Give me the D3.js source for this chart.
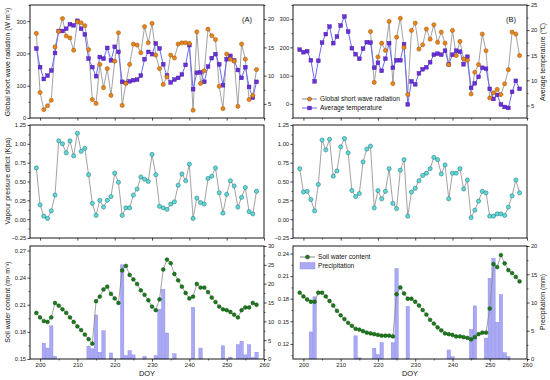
<!DOCTYPE html>
<html><head><meta charset="utf-8">
<script src="https://cdn.jsdelivr.net/npm/d3@7"></script>
<style>body{margin:0;background:#fff}svg{display:block;font-family:"Liberation Sans",Arial,sans-serif}</style>
</head><body><svg width="550" height="380"></svg>
<script>
const doy = [199,200,201,202,203,204,205,206,207,208,209,210,211,212,213,214,215,216,217,218,219,220,221,222,223,224,225,226,227,228,229,230,231,232,233,234,235,236,237,238,239,240,241,242,243,244,245,246,247,248,249,250,251,252,253,254,255,256,257,258];
const radA = [262,79,26,38,55,220,268,308,254,248,210,298,295,286,212,57,45,166,94,153,70,176,264,39,107,166,229,226,202,283,233,293,195,153,104,127,195,186,229,233,233,231,24,267,107,146,275,255,243,98,29,198,182,176,36,229,182,57,70,150];
const tempA = [14.8,11.5,9.4,10.0,10.9,14.0,17.9,17.9,18.3,19.1,18.9,19.7,18.3,17.3,13.0,11.5,9.9,13.3,13.0,14.9,12.7,15.1,14.2,8.9,8.7,9.0,9.2,9.3,10.0,12.9,14.2,13.8,15.7,14.8,12.0,10.0,8.8,9.3,9.6,10.2,11.9,15.4,7.6,10.5,10.6,8.9,11.6,13.1,13.8,12.0,8.3,12.9,13.5,12.7,11.0,9.6,11.5,8.0,6.1,8.9];
const radB = [null,null,null,null,null,null,null,null,null,null,null,null,null,null,null,null,null,null,null,256,76,166,215,189,292,72,236,303,200,33,260,286,194,209,265,229,280,218,254,215,139,260,171,221,159,154,35,112,139,247,188,21,39,51,33,71,121,254,247,171];
const tempB = [16.1,15.6,15.8,14.0,9.8,13.9,17.5,19.2,20.7,17.4,18.7,20.9,22.7,19.7,16.4,15.2,14.3,16.3,17.6,17.5,12.5,13.5,11.9,14.3,17.4,12.5,14.0,14.0,17.2,5.2,9.8,9.2,11.4,12.2,12.6,13.6,15.1,15.3,15.1,15.9,13.2,15.1,15.9,15.7,13.2,14.7,8.5,9.4,10.7,12.5,12.3,8.3,6.3,7.1,5.2,4.7,4.5,7.7,9.9,8.3];
const vpdA = [0.68,0.19,0.04,0.01,0.11,0.32,1.04,1.00,0.88,1.04,0.84,1.14,0.90,0.94,0.59,0.21,0.05,0.25,0.16,0.25,0.30,0.61,0.49,0.05,0.15,0.15,0.32,0.40,0.56,0.53,0.50,0.86,0.59,0.17,0.15,0.13,0.20,0.23,0.45,0.60,0.51,0.73,0.01,0.28,0.22,0.20,0.54,0.57,0.68,0.35,0.08,0.33,0.51,0.44,0.16,0.29,0.42,0.10,0.07,0.37];
const vpdB = [0.67,0.36,0.37,0.26,0.11,0.46,1.05,0.92,1.06,0.57,0.64,0.96,1.07,0.88,0.38,0.30,0.34,0.76,0.93,0.97,0.15,0.38,0.27,0.37,0.67,0.21,0.14,0.65,0.79,0.04,0.36,0.41,0.51,0.58,0.61,0.67,0.82,0.79,0.60,0.72,0.27,0.61,0.61,0.67,0.40,0.52,0.02,0.12,0.24,0.37,0.35,0.04,0.04,0.07,0.07,0.05,0.16,0.31,0.52,0.35];
const swcA = [0.201,0.196,0.192,0.191,0.196,0.212,0.209,0.205,0.201,0.196,0.191,0.186,0.182,0.177,0.172,0.167,0.214,0.219,0.227,0.230,0.222,0.217,0.212,0.248,0.253,0.243,0.238,0.233,0.226,0.221,0.215,0.208,0.204,0.216,0.249,0.260,0.256,0.244,0.237,0.230,0.223,0.217,0.219,0.233,0.229,0.229,0.224,0.218,0.213,0.208,0.205,0.204,0.202,0.199,0.196,0.204,0.207,0.207,0.212,0.210];
const swcB = [0.188,0.183,0.179,0.176,0.176,0.188,0.188,0.183,0.177,0.171,0.164,0.158,0.153,0.148,0.144,0.140,0.139,0.137,0.135,0.134,0.133,0.132,0.131,0.131,0.131,0.130,0.186,0.195,0.187,0.180,0.180,0.176,0.171,0.165,0.159,0.152,0.147,0.142,0.138,0.134,0.133,0.132,0.130,0.130,0.129,0.128,0.126,0.129,0.133,0.135,0.135,0.167,0.226,0.222,0.238,0.227,0.218,0.214,0.209,0.203];
const precipDayA = [201,202,203,204,213,214,215,216,217,219,222,223,224,225,228,231,232,233,234,236,241,243,249,251,253,254,255,256,257,258];
const precipA = [4.2,2.9,8.8,0.7,3.4,2.7,11.7,1.8,7.5,1.6,25.0,0.9,2.2,1.1,0.7,0.9,13.2,18.5,6.9,1.4,13.7,2.9,3.5,0.5,3.8,4.7,1.1,3.8,0.4,1.8];
const precipDayB = [202,203,214,215,219,220,221,224,225,228,239,240,245,246,249,250,251,252,253,254,255];
const precipB = [4.8,11.0,4.1,0.2,1.9,0.8,2.9,2.9,16.0,9.3,1.6,0.4,5.2,9.4,3.7,14.3,17.8,6.5,11.4,1.1,0.4];
const xTicks = [200,210,220,230,240,250,260];

const svg = d3.select("svg");
svg.append("rect").attr("width",550).attr("height",380).attr("fill","#fff");
const cols = {A:[30,264], B:[293,527]};
const rows = {top:[5,118], mid:[125,238], bot:[246,359]};
const FS = 5.8;

function xs(c){ return d3.scaleLinear().domain(c==="A"?[197.3,260]:[197.2,260]).range(cols[c]); }

function yAxis(scale, x, side, major, minor, fmt){
  const g = svg.append("g").attr("transform",`translate(${x},0)`);
  const ax = (side==="left"?d3.axisLeft(scale):d3.axisRight(scale)).tickValues(major).tickSizeInner(2.6).tickSizeOuter(0).tickPadding(1.3).tickFormat(fmt);
  g.call(ax);
  g.select(".domain").remove();
  g.selectAll("text").attr("font-size",FS).attr("fill","#222").attr("font-family","Liberation Sans, Arial, sans-serif");
  g.selectAll("line").attr("stroke","#000").attr("stroke-width",0.7);
  const gm = svg.append("g").attr("transform",`translate(${x},0)`);
  gm.call((side==="left"?d3.axisLeft(scale):d3.axisRight(scale)).tickValues(minor).tickSizeInner(1.5).tickSizeOuter(0).tickFormat(""));
  gm.select(".domain").remove();
  gm.selectAll("line").attr("stroke","#000").attr("stroke-width",0.6);
}
function xAxis(x, y, labels){
  const g = svg.append("g").attr("transform",`translate(0,${y})`);
  g.call(d3.axisBottom(x).tickValues(xTicks).tickSizeInner(2.6).tickSizeOuter(0).tickPadding(1.6).tickFormat(labels?d3.format("d"):""));
  g.select(".domain").remove();
  g.selectAll("text").attr("font-size",FS+0.2).attr("fill","#222");
  g.selectAll("line").attr("stroke","#000").attr("stroke-width",0.7);
  const gm = svg.append("g").attr("transform",`translate(0,${y})`);
  gm.call(d3.axisBottom(x).tickValues([205,215,225,235,245,255]).tickSizeInner(1.5).tickSizeOuter(0).tickFormat(""));
  gm.select(".domain").remove();
  gm.selectAll("line").attr("stroke","#000").attr("stroke-width",0.6);
}
function frame(c, r){
  const [x0,x1]=cols[c], [y0,y1]=rows[r];
  svg.append("rect").attr("x",x0).attr("y",y0).attr("width",x1-x0).attr("height",y1-y0)
    .attr("fill","none").attr("stroke","#000").attr("stroke-width",0.9);
}
function grayLine(x, y, vals){
  const line = d3.line().defined(d=>d[1]!=null).x(d=>x(d[0])).y(d=>y(d[1]));
  svg.append("path").datum(doy.map((d,i)=>[d,vals[i]])).attr("d",line)
    .attr("fill","none").attr("stroke","#8a8a8a").attr("stroke-width",0.8);
}
function circles(x,y,vals,r,fill,stroke){
  svg.append("g").selectAll("circle").data(doy.map((d,i)=>[d,vals[i]]).filter(d=>d[1]!=null)).join("circle")
    .attr("cx",d=>x(d[0])).attr("cy",d=>y(d[1])).attr("r",r).attr("fill",fill).attr("stroke",stroke).attr("stroke-width",0.5);
}
function squares(x,y,vals){
  const line = d3.line().x(d=>x(d[0])).y(d=>y(d[1]));
  const pts = doy.map((d,i)=>[d,vals[i]]);
  svg.append("path").datum(pts).attr("d",line).attr("fill","none").attr("stroke","#6a6af5").attr("stroke-width",1);
  svg.append("g").selectAll("rect").data(pts).join("rect")
    .attr("x",d=>x(d[0])-1.9).attr("y",d=>y(d[1])-1.9).attr("width",3.8).attr("height",3.8)
    .attr("fill","#6a2fd8").attr("stroke","#3d1a96").attr("stroke-width",0.4);
}
function bars(x,y,days,vals){
  svg.append("g").selectAll("rect").data(days.map((d,i)=>[d,vals[i]])).join("rect")
    .attr("x",d=>x(d[0])-1.7).attr("width",3.4)
    .attr("y",d=>y(d[1])).attr("height",d=>y(0)-y(d[1]))
    .attr("fill","#a9a9f4").attr("stroke","#8585e6").attr("stroke-width",0.4);
}
const f2 = d3.format(".2f"), f0 = d3.format("d");

// ---------- Top panels ----------
["A","B"].forEach(c=>{
  const x = xs(c), [y0,y1]=rows.top;
  const yR = d3.scaleLinear().domain(c==="A"?[0,350]:[-50,350]).range([y1,y0]);
  const yT = d3.scaleLinear().domain(c==="A"?[2.5,22.5]:[2.5,25]).range([y1,y0]);
  grayLine(x,yR,c==="A"?radA:radB);
  squares(x,yT,c==="A"?tempA:tempB);
  circles(x,yR,c==="A"?radA:radB,2.1,"#e8861c","#9a5208");
  frame(c,"top");
  yAxis(yR, cols[c][0], "left", [0,100,200,300], c==="A"?[50,150,250,350]:[-50,50,150,250,350], f0);
  yAxis(yT, cols[c][1], "right", c==="A"?[5,10,15,20]:[5,10,15,20,25], [2.5,7.5,12.5,17.5,22.5], f0);
  xAxis(x, y1, false);
  svg.append("text").attr("x",c==="A"?247:511).attr("y",22).attr("text-anchor","middle").attr("font-size",7.5).attr("fill","#111").text(c==="A"?"(A)":"(B)");
});
// ---------- Middle panels ----------
["A","B"].forEach(c=>{
  const x = xs(c), [y0,y1]=rows.mid;
  const y = d3.scaleLinear().domain([-0.25,1.25]).range([y1,y0]);
  grayLine(x,y,c==="A"?vpdA:vpdB);
  circles(x,y,c==="A"?vpdA:vpdB,2.1,"#5fd8d8","#1f6f73");
  frame(c,"mid");
  yAxis(y, cols[c][0], "left", [-0.25,0,0.25,0.5,0.75,1,1.25], [-0.125,0.125,0.375,0.625,0.875,1.125], f2);
  xAxis(x, y1, false);
});
// ---------- Bottom panels ----------
["A","B"].forEach(c=>{
  const x = xs(c), [y0,y1]=rows.bot;
  const yS = d3.scaleLinear().domain(c==="A"?[0.15,0.275]:[0.10,0.25]).range([y1,y0]);
  const yP = d3.scaleLinear().domain(c==="A"?[0,30]:[0,20]).range([y1,y0]);
  bars(x,yP,c==="A"?precipDayA:precipDayB,c==="A"?precipA:precipB);
  grayLine(x,yS,c==="A"?swcA:swcB);
  circles(x,yS,c==="A"?swcA:swcB,1.9,"#1c7a1c","#0c4a0c");
  frame(c,"bot");
  yAxis(yS, cols[c][0], "left", c==="A"?[0.15,0.18,0.21,0.24,0.27]:[0.12,0.15,0.18,0.21,0.24], c==="A"?[0.165,0.195,0.225,0.255]:[0.105,0.135,0.165,0.195,0.225], f2);
  yAxis(yP, cols[c][1], "right", c==="A"?[0,5,10,15,20,25,30]:[0,5,10,15,20], c==="A"?[2.5,7.5,12.5,17.5,22.5,27.5]:[2.5,7.5,12.5,17.5], f0);
  xAxis(x, y1, true);
  svg.append("text").attr("x",(cols[c][0]+cols[c][1])/2).attr("y",376).attr("text-anchor","middle").attr("font-size",7.4).attr("fill","#111").text("DOY");
});

// ---------- Axis titles ----------
function vTitle(x, yc, txt, rot){
  svg.append("text").attr("transform",`translate(${x},${yc}) rotate(${rot})`).attr("text-anchor","middle")
    .attr("font-size",6.9).attr("fill","#111").text(txt);
}
vTitle(10, 62, "Global short wave radiation (W m\u207B\u00B2)", -90);
vTitle(10, 181, "Vapour pressure dificit (Kpa)", -90);
vTitle(10, 302, "Soil water content (m\u00B3 m\u207B\u00B3)", -90);
vTitle(545, 62, "Average temperature (\u2103)", -90);
vTitle(545, 302, "Precipitation (mm)", -90);

// ---------- Legends ----------
function legLine(x,y,color,mk,label,lineColor){
  svg.append("line").attr("x1",x).attr("x2",x+15).attr("y1",y).attr("y2",y).attr("stroke",lineColor).attr("stroke-width",1);
  if(mk==="c") svg.append("circle").attr("cx",x+7.5).attr("cy",y).attr("r",2.1).attr("fill",color).attr("stroke","#333").attr("stroke-width",0.4);
  else svg.append("rect").attr("x",x+5.6).attr("y",y-1.9).attr("width",3.8).attr("height",3.8).attr("fill",color).attr("stroke","#3d1a96").attr("stroke-width",0.4);
  svg.append("text").attr("x",x+18).attr("y",y+2.2).attr("font-size",6.6).attr("fill","#111").text(label);
}
legLine(302,99,"#e8861c","c","Global short wave radiation","#8a8a8a");
legLine(302,108,"#6a2fd8","s","Average temperature","#6a6af5");
legLine(300,257,"#1c7a1c","c","Soil water content","#8a8a8a");
svg.append("rect").attr("x",300).attr("y",262.5).attr("width",15).attr("height",6.5).attr("fill","#a9a9f4").attr("stroke","#8585e6").attr("stroke-width",0.4);
svg.append("text").attr("x",318).attr("y",268).attr("font-size",6.6).attr("fill","#111").text("Precipitation");
</script></body></html>
